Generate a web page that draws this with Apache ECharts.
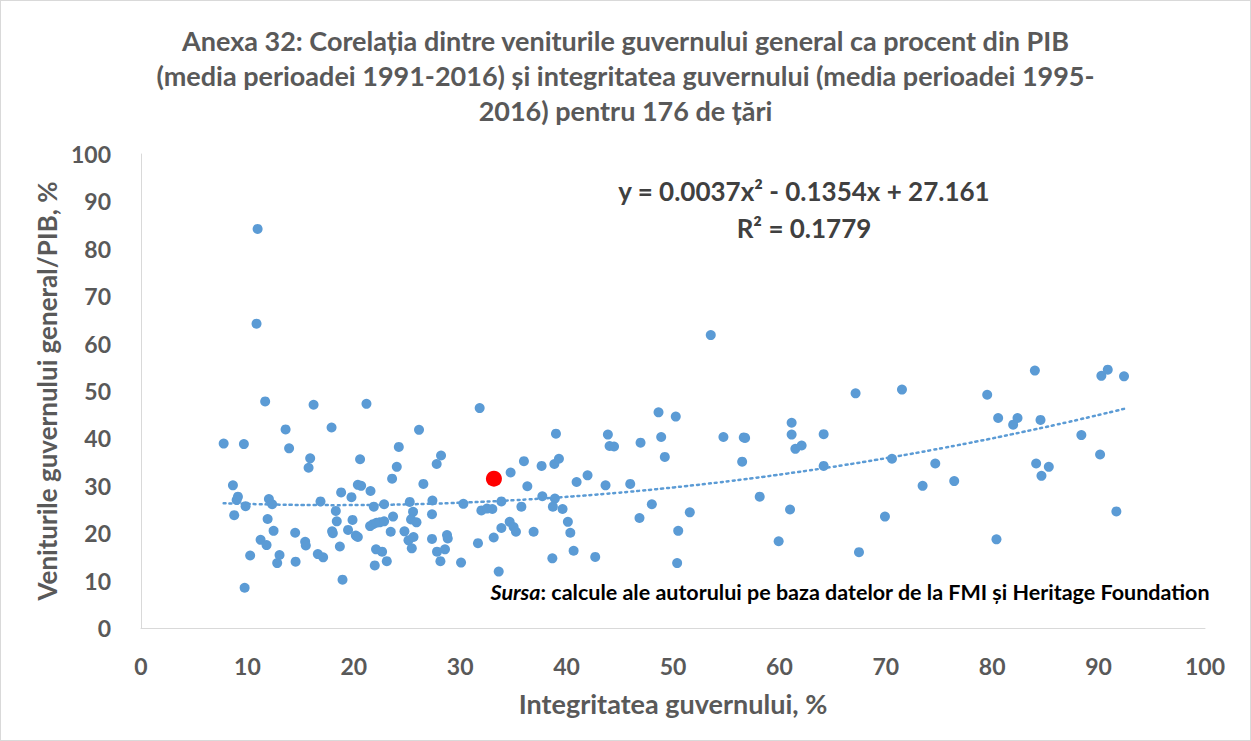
<!DOCTYPE html>
<html>
<head>
<meta charset="utf-8">
<script src="https://cdn.jsdelivr.net/npm/echarts@6/dist/echarts.min.js"></script>
<style>
  html, body { margin: 0; padding: 0; background: #fff; }
  #chart { width: 1251px; height: 741px; box-sizing: border-box; border: 1px solid #d9d9d9; }
</style>
</head>
<body>
<div id="chart"></div>
<script>
// Integritatea guvernului (%) for each country
const integrity = [
  11.67, 16.22, 21.19, 13.59, 17.91, 7.77, 9.67, 13.92, 15.90, 15.75,
  20.59, 24.23, 24.04, 23.60, 8.64, 20.38, 20.69, 18.81, 19.78, 21.57,
  9.11, 8.99, 12.02, 12.33, 16.87, 9.83, 21.88, 22.85, 8.76, 18.31,
  11.90, 18.40, 19.88, 23.69, 12.46, 14.49, 17.96, 18.03, 19.46, 21.53,
  21.81, 22.13, 22.44, 22.85, 23.47, 20.19, 20.38, 11.24, 11.80, 15.43,
  15.49, 18.69, 22.09, 22.66, 10.26, 13.02, 16.62, 17.12, 12.80, 14.53,
  21.97, 23.10, 18.94, 9.74, 10.96, 10.86,
  31.83, 26.13, 39.00, 28.20, 27.79, 35.99, 37.65, 38.85, 39.28, 34.74,
  26.54, 36.31, 40.94, 41.97, 43.88, 44.04, 43.66, 25.26, 27.39, 30.30,
  33.87, 37.72, 38.90, 35.75, 38.71, 39.62, 31.99, 32.52, 33.02, 25.57,
  25.38, 25.89, 27.35, 40.12, 34.65, 35.02, 35.24, 33.87, 24.76, 33.15,
  36.90, 40.35, 25.14, 25.61, 25.45, 27.35, 28.76, 28.83, 31.67, 27.82,
  28.57, 28.14, 30.08, 40.66, 38.66, 42.69, 33.62,
  44.46, 53.55, 48.64, 50.26, 54.74, 56.65, 56.78, 48.89, 46.95, 61.15,
  61.15, 61.50, 62.09, 49.23, 56.50, 45.98, 58.15, 48.01, 51.58, 46.85,
  61.00, 50.49, 59.93, 50.39,
  67.16, 71.52, 79.53, 80.56, 64.16, 64.16, 70.58, 74.65, 73.46, 76.43,
  69.92, 67.48, 80.40,
  84.01, 90.26, 90.86, 92.39, 81.97, 82.38, 84.54, 88.38, 84.13, 85.32,
  84.63, 90.14, 91.67
];

// Veniturile guvernului general / PIB (%) for the same countries
const revenue = [
  47.8, 47.1, 47.3, 41.9, 42.3, 38.9, 38.8, 37.9, 35.8, 33.8,
  35.6, 38.2, 34.0, 31.5, 30.1, 30.2, 30.0, 28.6, 27.6, 28.9,
  27.7, 27.0, 27.2, 26.1, 26.7, 25.7, 25.6, 26.1, 23.8, 24.7,
  23.0, 22.5, 22.8, 23.5, 20.5, 20.1, 20.4, 20.0, 20.7, 21.5,
  21.9, 22.2, 22.3, 22.5, 20.3, 19.5, 19.2, 18.6, 17.5, 18.2,
  17.4, 17.2, 16.6, 16.1, 15.3, 15.4, 15.6, 14.9, 13.7, 14.0,
  13.2, 14.1, 10.2, 8.5, 84.2, 64.2,
  46.4, 41.8, 41.0, 36.4, 34.6, 35.2, 34.2, 34.6, 35.7, 32.8,
  30.4, 29.9, 30.8, 32.2, 40.8, 38.4, 30.1, 26.6, 26.9, 26.2,
  26.7, 27.8, 27.3, 25.6, 25.6, 25.1, 24.8, 25.2, 25.1, 24.5,
  22.9, 22.3, 24.0, 22.4, 22.4, 21.3, 20.3, 21.1, 20.4, 19.1,
  20.3, 20.1, 18.5, 19.2, 16.8, 18.8, 19.6, 18.9, 17.9, 16.1,
  16.6, 14.1, 13.8, 16.3, 14.7, 15.0, 11.9,
  38.3, 61.8, 45.5, 44.6, 40.3, 40.2, 40.1, 40.3, 39.1, 43.3,
  40.8, 37.8, 38.5, 36.1, 35.1, 30.4, 27.7, 26.1, 24.4, 23.2,
  25.0, 20.5, 18.3, 13.7,
  49.5, 50.3, 49.2, 44.3, 40.9, 34.2, 35.7, 34.7, 30.0, 31.0,
  23.5, 16.0, 18.7,
  54.3, 53.2, 54.5, 53.1, 42.9, 44.3, 43.9, 40.7, 34.7, 34.0,
  32.1, 36.6, 24.6
];

// Highlighted country: Romania
const highlightPoint = [33.17, 31.5];

// Polynomial trendline coefficients (order 2): a*x^2 + b*x + c
const trendCoef = [0.0037, -0.1354, 27.161];
const rSquared = 0.1779;

// Axis ticks
const xTicks = [0, 10, 20, 30, 40, 50, 60, 70, 80, 90, 100];
const yTicks = [0, 10, 20, 30, 40, 50, 60, 70, 80, 90, 100];

const titleLines = [
  'Anexa 32: Corelația dintre veniturile guvernului general ca procent din PIB',
  '(media perioadei 1991-2016) și integritatea guvernului (media perioadei 1995-',
  '2016) pentru 176 de țări'
];

const points = integrity.map((x, i) => [x, revenue[i]]);

// Sample the fitted curve across the observed range
const xMin = Math.min(...integrity), xMax = Math.max(...integrity);
const trend = [];
for (let k = 0; k <= 80; k++) {
  const x = xMin + (xMax - xMin) * k / 80;
  trend.push([x, trendCoef[0] * x * x + trendCoef[1] * x + trendCoef[2]]);
}

const gray = '#595959';
const font = 'Lato, "Open Sans", sans-serif';

const chart = echarts.init(document.getElementById('chart'), null, { renderer: 'svg' });
chart.setOption({
  animation: false,
  textStyle: { fontFamily: font },
  title: {
    text: titleLines.join('\n'),
    left: 'center',
    top: 17,
    textStyle: { fontFamily: font, fontSize: 27, fontWeight: 'bold', color: gray, lineHeight: 35 }
  },
  grid: { left: 140, right: 45, top: 153, bottom: 112, containLabel: false },
  xAxis: {
    type: 'value',
    min: xTicks[0], max: xTicks[xTicks.length - 1], interval: 10,
    name: 'Integritatea guvernului, %',
    nameLocation: 'middle', nameGap: 62,
    nameTextStyle: { fontFamily: font, fontSize: 27, fontWeight: 'bold', color: gray },
    axisLine: { show: true, lineStyle: { color: '#d9d9d9', width: 1 } },
    axisTick: { show: false },
    splitLine: { show: false },
    axisLabel: { fontFamily: font, fontSize: 23, fontWeight: 'bold', color: gray, margin: 26 }
  },
  yAxis: {
    type: 'value',
    min: yTicks[0], max: yTicks[yTicks.length - 1], interval: 10,
    name: 'Veniturile guvernului general/PIB, %',
    nameLocation: 'middle', nameGap: 76, nameRotate: 90,
    nameTextStyle: { fontFamily: font, fontSize: 26, fontWeight: 'bold', color: gray },
    axisLine: { show: true, lineStyle: { color: '#d9d9d9', width: 1 } },
    axisTick: { show: false },
    splitLine: { show: false },
    axisLabel: { fontFamily: font, fontSize: 23, fontWeight: 'bold', color: gray, margin: 30 }
  },
  series: [
    {
      type: 'line',
      data: trend,
      showSymbol: false,
      smooth: true,
      lineStyle: { color: '#5B9BD5', width: 2.5, type: [2, 4], cap: 'round' },
      z: 1
    },
    {
      type: 'scatter',
      data: points,
      symbolSize: 10,
      itemStyle: { color: '#5B9BD5', opacity: 1 },
      z: 2
    },
    {
      type: 'scatter',
      data: [highlightPoint],
      symbolSize: 16,
      itemStyle: { color: '#FF0000', opacity: 1 },
      z: 3
    }
  ],
  graphic: [
    {
      type: 'text',
      x: 803, y: 190,
      style: {
        text: 'y = ' + trendCoef[0] + 'x² - ' + Math.abs(trendCoef[1]) + 'x + ' + trendCoef[2],
        fill: '#404040',
        font: 'bold 26px ' + font,
        align: 'center', verticalAlign: 'middle'
      }
    },
    {
      type: 'text',
      x: 803, y: 227,
      style: {
        text: 'R² = ' + rSquared,
        fill: '#404040',
        font: 'bold 26px ' + font,
        align: 'center', verticalAlign: 'middle'
      }
    },
    {
      type: 'text',
      right: 40, top: 580,
      style: {
        text: '{i|Sursa}{n|: calcule ale autorului pe baza datelor de la FMI și Heritage Foundation}',
        rich: {
          i: { fontFamily: font, fontSize: 21.5, fontWeight: 'bold', fontStyle: 'italic', fill: '#000' },
          n: { fontFamily: font, fontSize: 21.5, fontWeight: 'bold', fill: '#000' }
        }
      }
    }
  ]
});
</script>
</body>
</html>
